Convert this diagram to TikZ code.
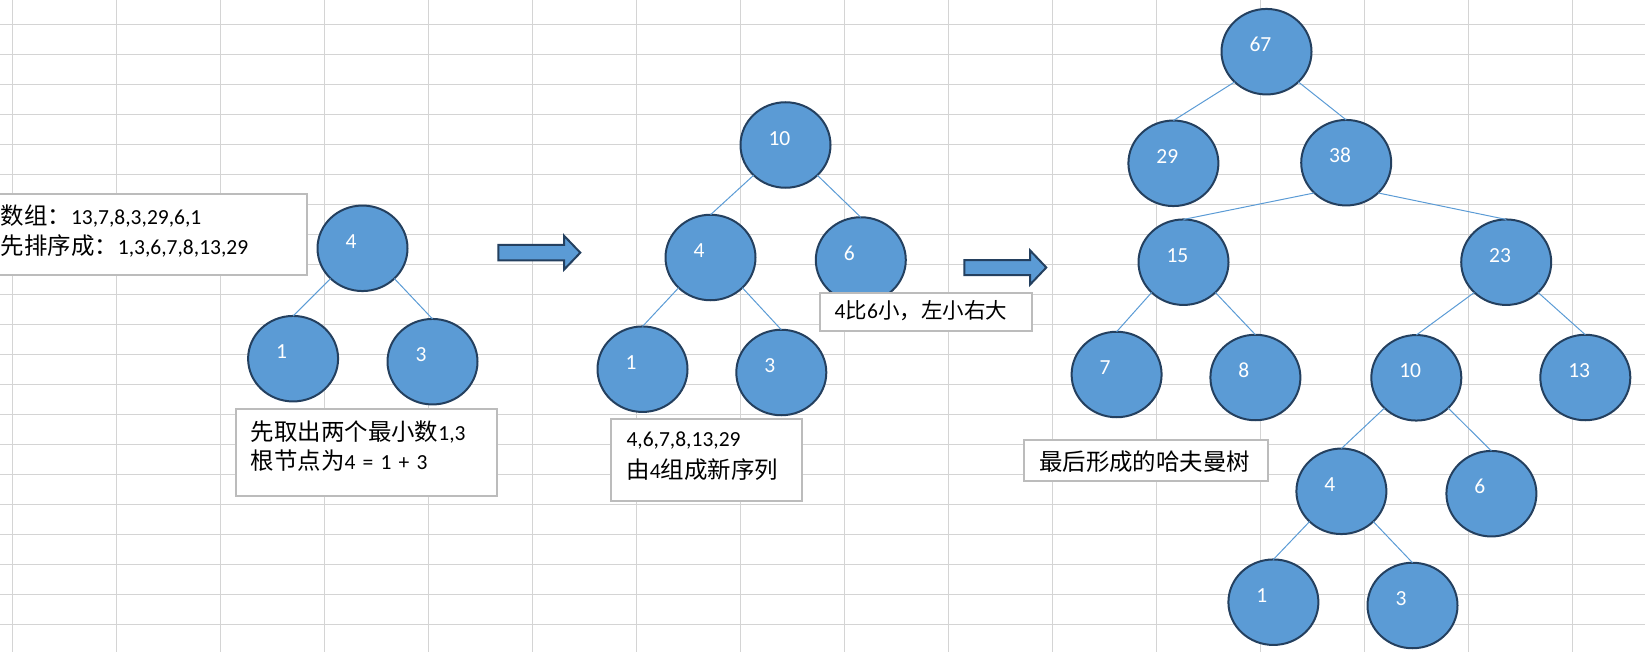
\documentclass[tikz,border=0pt]{standalone}
\usepackage{fontspec}
\setmainfont{Carlito}
\newfontfamily\cjk{Noto Sans CJK SC}[Scale=1.09]
\newfontfamily\cjkn{Noto Sans CJK SC}
\usetikzlibrary{shapes.geometric}

\definecolor{gridline}{HTML}{D4D4D4}
\definecolor{nodefill}{HTML}{5B9BD5}
\definecolor{nodeline}{HTML}{24405F}
\definecolor{edgeblue}{HTML}{5B9BD5}
\definecolor{boxgray}{HTML}{BCBCBC}

\tikzset{
  sheetgrid/.style={draw=gridline, line width=1pt},
  hnode/.style={ellipse, draw=nodeline, line width=2pt, fill=nodefill,
    minimum width=90pt, minimum height=85.5pt, inner sep=0pt, outer sep=0pt,
    text=white, text width=34pt, align=left, text height=13.6pt, text depth=13.4pt},
  hedge/.style={draw=edgeblue, line width=1pt},
  tbox/.style={rectangle, draw=boxgray, line width=2pt, fill=white,
    inner sep=0pt, outer sep=0pt, anchor=north west},
  ttext/.style={anchor=base west, inner sep=0pt, text width=#1, align=left},
  blockarrow/.style={draw=nodeline, line width=2pt, fill=nodefill, line join=miter}
}

\begin{document}
\begin{tikzpicture}[x=1pt, y=-1pt, font=\fontsize{21.5}{26}\selectfont]
\useasboundingbox (0,0) rectangle (1645,652);
\clip (0,0) rectangle (1645,652);

% spreadsheet grid
\foreach \i in {0,...,15}
  \draw[sheetgrid] (12.3+104*\i,0) -- (12.3+104*\i,652);
\foreach \j in {0,...,20}
  \draw[sheetgrid] (0,24.3+30*\j) -- (1645,24.3+30*\j);

% ---- first tree: 4 = 1 + 3
\node[hnode] (a4) at (362.5,248.3) {4};
\node[hnode] (a1) at (293.1,358.7) {1};
\node[hnode] (a3) at (432.5,361.7) {3};
\draw[hedge] (a4.south west) -- (a1.north);
\draw[hedge] (a4.south east) -- (a3.north);

% ---- second tree: 10 = 4 + 6
\node[hnode] (b10) at (785.5,145) {10};
\node[hnode] (b4) at (710.5,257.5) {4};
\node[hnode] (b6) at (860.8,260) {6};
\node[hnode] (b1) at (642.5,369.2) {1};
\node[hnode] (b3) at (781.3,372.5) {3};
\draw[hedge] (b10.south west) -- (b4.north);
\draw[hedge] (b10.south east) -- (b6.north);
\draw[hedge] (b4.south west) -- (b1.north);
\draw[hedge] (b4.south east) -- (b3.north);

% ---- final Huffman tree
\node[hnode] (c67) at (1266.5,51.7) {67};
\node[hnode] (c29) at (1173.4,163.3) {29};
\node[hnode] (c38) at (1346.2,162.7) {38};
\node[hnode] (c15) at (1183.5,262.2) {15};
\node[hnode] (c23) at (1506.2,262.2) {23};
\node[hnode] (c7) at (1116.6,374.5) {7};
\node[hnode] (c8) at (1255.4,377.5) {8};
\node[hnode] (c10) at (1416.3,377.8) {10};
\node[hnode] (c13) at (1585.3,377.5) {13};
\node[hnode] (c4) at (1341.4,491.3) {4};
\node[hnode] (c6) at (1491.4,493.7) {6};
\node[hnode] (c1) at (1273.4,602.2) {1};
\node[hnode] (c3) at (1412.5,605.5) {3};
\draw[hedge] (c67.south west) -- (c29.north);
\draw[hedge] (c67.south east) -- (c38.north);
\draw[hedge] (c38.south west) -- (c15.north);
\draw[hedge] (c38.south east) -- (c23.north);
\draw[hedge] (c15.south west) -- (c7.north);
\draw[hedge] (c15.south east) -- (c8.north);
\draw[hedge] (c23.south west) -- (c10.north);
\draw[hedge] (c23.south east) -- (c13.north);
\draw[hedge] (c10.south west) -- (c4.north);
\draw[hedge] (c10.south east) -- (c6.north);
\draw[hedge] (c4.south west) -- (c1.north);
\draw[hedge] (c4.south east) -- (c3.north);

% ---- block arrows between the steps
\draw[blockarrow] (498.3,245) -- (564,245) -- (564,235.7) -- (580.3,252.7)
  -- (564,269.7) -- (564,260.3) -- (498.3,260.3) -- cycle;
\draw[blockarrow] (964.3,260) -- (1030,260) -- (1030,250.3) -- (1046.3,267.5)
  -- (1030,284.7) -- (1030,275) -- (964.3,275) -- cycle;

% ---- text boxes
\node[tbox, minimum width=327.3pt, minimum height=80.4pt] (t1) at (-20,194.3) {};
\node[ttext=320pt, font=\fontsize{21.5}{30.7}\selectfont] (t1x) at (0.5,224.3)
  {{\cjk 数组：}13,7,8,3,29,6,1\\{\cjk 先排序成：}1,3,6,7,8,13,29};

\node[tbox, minimum width=261.3pt, minimum height=87pt] (t2) at (236,409.3) {};
\node[ttext=250pt, font=\fontsize{21.5}{29}\selectfont] (t2x) at (250.7,440.5)
  {{\cjk 先取出两个最小数}1,3\\{\cjk 根节点为}4 = 1 + 3};

\node[tbox, minimum width=191.3pt, minimum height=81.4pt] (t3) at (611,419.3) {};
\node[ttext=180pt, font=\fontsize{21.5}{31.5}\selectfont] (t3x) at (626.3,446.7)
  {4,6,7,8,13,29\\{\cjk 由}4{\cjk 组成新序列}};

\node[tbox, minimum width=211.7pt, minimum height=38pt] (t4) at (820,293.3) {};
\node[ttext=200pt] (t4x) at (834.5,318.3) {4{\cjkn 比}6{\cjkn 小，左小右大}};

\node[tbox, minimum width=243.7pt, minimum height=41pt] (t5) at (1024.3,440.3) {};
\node[ttext=235pt] (t5x) at (1039,470) {{\cjk 最后形成的哈夫曼树}};
\end{tikzpicture}
\end{document}
